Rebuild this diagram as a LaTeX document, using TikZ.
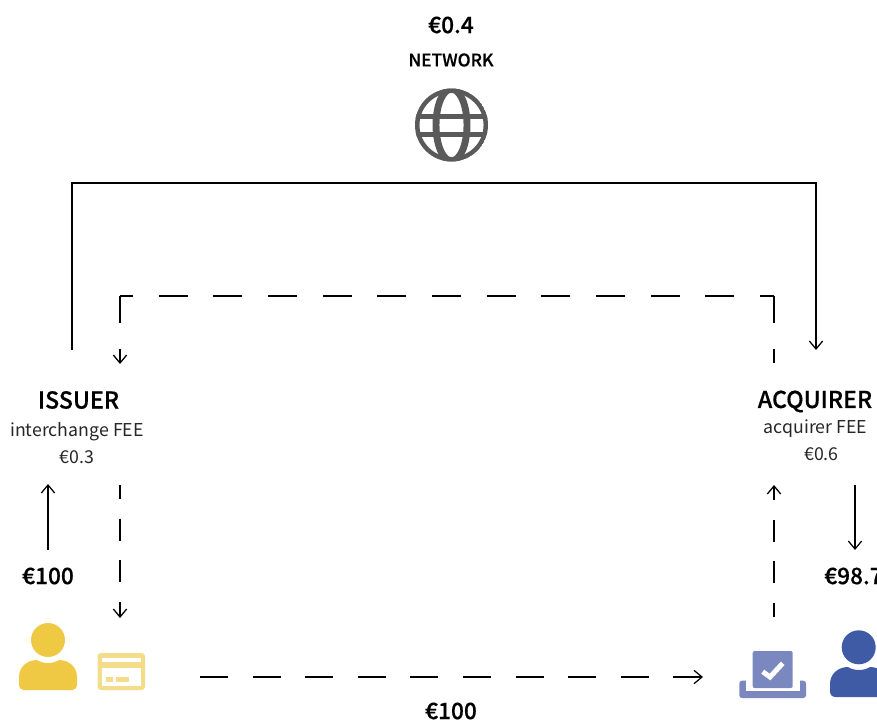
\documentclass[tikz,border=0pt]{standalone}
\usepackage{fontspec}
\setmainfont{Noto Sans CJK SC}
\newfontfamily\medfont[FakeBold=0.5]{Noto Sans CJK SC Medium}
\usetikzlibrary{arrows.meta}
\definecolor{issuercol}{HTML}{F0C944}
\definecolor{cardcol}{HTML}{F3DD8B}
\definecolor{acquirercol}{HTML}{3F5BA6}
\definecolor{termcol}{HTML}{7B88BF}
\definecolor{globecol}{HTML}{5A5A5A}

\begin{document}
\begin{tikzpicture}[
  x=0.75pt,
  y=-0.75pt,
  title/.style={inner sep=0pt, font=\medfont\fontsize{17.4}{20}\selectfont},
  small/.style={inner sep=0pt, text=black!85, font=\fontsize{13.3}{15}\selectfont},
  amount/.style={inner sep=0pt, font=\medfont\fontsize{17}{19}\selectfont},
  flowline/.style={black, line width=0.95pt},
  flowsolid/.style={flowline, -{Straight Barb[length=6pt,width=10pt]}},
  dashwide/.style={dash pattern=on 21.75pt off 19.25pt},
  dashshort/.style={dash pattern=on 16.5pt off 14.8pt, dash phase=6pt},
  globeline/.style={globecol, line width=3.4pt}
]
\useasboundingbox (0,0) rectangle (877,722);

\node[amount] (network fee) at (451,25) {€0.4};
\node[inner sep=0pt, font=\medfont\fontsize{13}{15}\selectfont] (network) at (451,60) {NETWORK};

\node[title] (issuer) at (78.5,400) {ISSUER};
\node[small] (issuer name) at (77,432) {interchange FEE};
\node[small] (issuer fee) at (77,457) {€0.3};
\node[title] (acquirer) at (815,401.5) {ACQUIRER};
\node[small] (acquirer name) at (815.5,429) {acquirer FEE};
\node[small] (acquirer fee) at (821.5,454) {€0.6};

\node[amount] (paid) at (48,576) {€100};
\node[amount, anchor=west] (settled) at (824,576) {€98.7};
\node[amount] (card amount) at (451,711) {€100};

% globe
\begin{scope}
\clip (451.5,125) circle (36.5);
\draw[globeline] (451.5,125) circle (34.3);
\draw[globeline, line width=5.2pt] (451.5,125) ellipse (15.5 and 36);
\draw[globeline, line width=3.75pt] (415,116) -- (488,116);
\draw[globeline, line width=3.75pt] (415,134) -- (488,134);
\end{scope}

% card holder
\fill[issuercol] (48,640) circle (17);
\fill[issuercol] (19,684) -- (19,677) .. controls (19,667) and (27,660) .. (37,660)
  .. controls (43,664) and (53,664) .. (59,660) .. controls (69,660) and (77,667) .. (77,677)
  -- (77,684) .. controls (77,688) and (75,690) .. (71,690) -- (25,690) .. controls (21,690) and (19,688) .. (19,684) -- cycle;
\fill[cardcol, rounded corners=2.5pt] (97.5,653) rectangle (145,690);
\fill[white] (101.7,657.5) rectangle (141,661.5);
\fill[white] (101.7,668) rectangle (141,686);
\fill[cardcol] (105.7,677) rectangle (113.3,682);
\fill[cardcol] (116,677) rectangle (129.3,682);

% terminal
\fill[termcol, rounded corners=2pt] (739.3,680.7) rectangle (806,698);
\fill[white] (745.5,680) rectangle (800,691);
\fill[termcol, rounded corners=1.5pt] (752.7,651) rectangle (792.7,688);
\draw[white, line width=3.75pt] (762.7,671.7) -- (770,677) -- (782.7,663.3);

% merchant
\fill[acquirercol] (858.7,647.3) circle (17);
\fill[acquirercol] (830,691) -- (830,684) .. controls (830,674) and (838,667) .. (848,667)
  .. controls (854,671) and (864,671) .. (870,667) .. controls (880,667) and (888,674) .. (888,684)
  -- (888,691) .. controls (888,695) and (886,697) .. (882,697) -- (836,697) .. controls (832,697) and (830,695) .. (830,691) -- cycle;

\coordinate (network from) at (72,350);
\coordinate (network to) at (816,350);
\coordinate (back from) at (774,363);
\coordinate (back right) at (774,296);
\coordinate (back left) at (120,296);
\coordinate (back to) at (120,364);
\coordinate (paid from) at (48,550);
\coordinate (paid to) at (48,484);
\coordinate (settled from) at (855,485);
\coordinate (settled to) at (855,550);
\coordinate (card from) at (120,485);
\coordinate (card to) at (120,618);
\coordinate (term from) at (200,677);
\coordinate (term to) at (703,677);
\coordinate (up from) at (774,617);
\coordinate (up to) at (774,485);

\draw[flowsolid] (network from) |- (451,183) -| (network to);
\draw[flowline, dashwide, dash phase=1.5pt] (back right) -- (back from);
\draw[flowline, dashwide, dash phase=11.25pt] (back right) -- (back left);
\draw[flowsolid, dashwide, dash phase=1.5pt] (back left) -- (back to);
\draw[flowsolid] (paid from) -- (paid to);
\draw[flowsolid] (settled from) -- (settled to);
\draw[flowsolid, dashshort] (card from) -- (card to);
\draw[flowsolid, dash pattern=on 21pt off 18.45pt] (term from) -- (term to);
\draw[flowsolid, dashshort] (up from) -- (up to);
\end{tikzpicture}
\end{document}
